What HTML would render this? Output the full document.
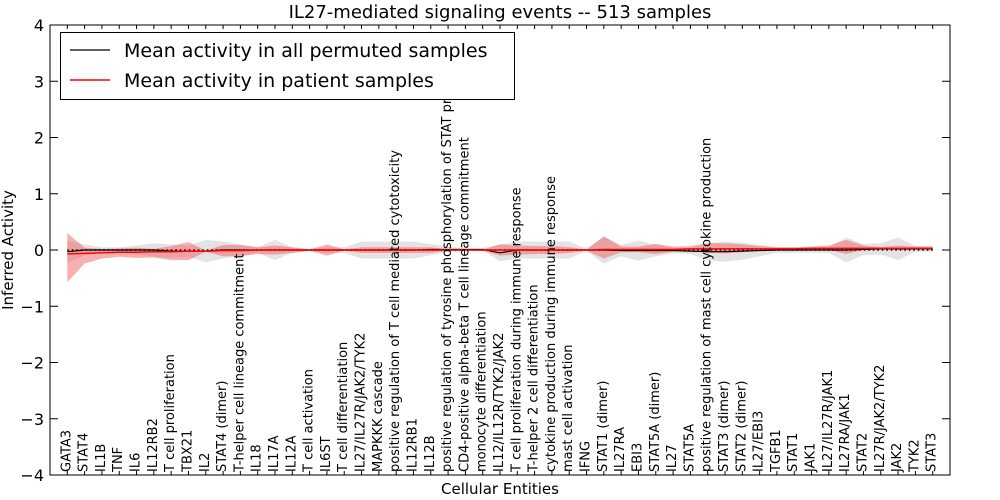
<!DOCTYPE html>
<html><head><meta charset="utf-8"><style>
body{margin:0;background:#fff;}
svg text{font-family:"DejaVu Sans","Liberation Sans",sans-serif;}
</style></head><body>
<svg id="chart" width="1000" height="500" xmlns="http://www.w3.org/2000/svg" style="position:absolute;left:0;top:0">
<rect width="1000" height="500" fill="#fff"/>
<g id="bands"></g><g id="lines"></g><g id="xlabels"></g><g id="axes"></g>
</svg>
<script>
const categories=["GATA3","STAT4","IL1B","TNF","IL6","IL12RB2","T cell proliferation","TBX21","IL2","STAT4 (dimer)","T-helper cell lineage commitment","IL18","IL17A","IL12A","T cell activation","IL6ST","T cell differentiation","IL27/IL27R/JAK2/TYK2","MAPKKK cascade","positive regulation of T cell mediated cytotoxicity","IL12RB1","IL12B","positive regulation of tyrosine phosphorylation of STAT protein","CD4-positive alpha-beta T cell lineage commitment","monocyte differentiation","IL12/IL12R/TYK2/JAK2","T cell proliferation during immune response","T-helper 2 cell differentiation","cytokine production during immune response","mast cell activation","IFNG","STAT1 (dimer)","IL27RA","EBI3","STAT5A (dimer)","IL27","STAT5A","positive regulation of mast cell cytokine production","STAT3 (dimer)","STAT2 (dimer)","IL27/EBI3","TGFB1","STAT1","JAK1","IL27/IL27R/JAK1","IL27RA/JAK1","STAT2","IL27R/JAK2/TYK2","JAK2","TYK2","STAT3"];
const permMean=[-0.03,0,0,0,0,0,-0.02,-0.02,-0.02,0,0,0,0,0,0,0,0,0,0,0,0,0.01,0.01,0.01,0.01,-0.05,0,0,0,0,0,0,-0.01,-0.01,-0.01,-0.01,-0.02,-0.03,-0.03,-0.02,-0.01,0,0,0,0,0,0.01,0.02,0.02,0.02,0.02];
const patientMean=[-0.07,-0.06,-0.05,-0.04,-0.04,-0.03,-0.03,-0.02,-0.02,-0.01,-0.01,0,0,0,0,0,0,0,0,0,0,0,0,0,0,0,0,0,0,0,0,0.01,0.01,0.01,0.01,0.01,0.02,0.02,0.02,0.02,0.02,0.02,0.02,0.03,0.03,0.03,0.03,0.03,0.03,0.03,0.03];
const permSpread=[0.2,0.1,0.05,0.05,0.08,0.12,0.12,0.1,0.2,0.15,0.1,0.05,0.18,0.05,0.02,0.05,0.05,0.15,0.15,0.15,0.15,0.1,0.05,0.02,0.02,0.15,0.15,0.15,0.15,0.15,0.02,0.24,0.1,0.18,0.1,0.05,0.05,0.15,0.18,0.15,0.1,0.05,0.05,0.05,0.05,0.22,0.1,0.1,0.2,0.05,0.05];
const patientUpper=[0.37,0.1,0.07,0.07,0.08,0.05,0.1,0.16,0.01,0.1,0.1,0.05,0.08,0.05,0.01,0.1,0.01,0.05,0.05,0.05,0.05,0.05,0.01,0.01,0.01,0.1,0.08,0.07,0.07,0.05,0.01,0.23,0.05,0.05,0.1,0.05,0.05,0.1,0.1,0.08,0.05,0.03,0.03,0.03,0.05,0.15,0.05,0.02,0.05,0.03,0.03];
const patientLower=[-0.5,-0.18,-0.1,-0.08,-0.1,-0.1,-0.15,-0.16,-0.01,-0.1,-0.1,-0.07,-0.08,-0.05,-0.01,-0.1,-0.01,-0.05,-0.05,-0.05,-0.05,-0.05,-0.01,-0.01,-0.01,-0.1,-0.08,-0.07,-0.07,-0.05,-0.01,-0.16,-0.05,-0.05,-0.08,-0.04,-0.03,-0.07,-0.08,-0.06,-0.03,-0.02,-0.02,-0.02,-0.03,-0.1,-0.03,-0.01,-0.03,-0.02,-0.02];
const yTicks=[-4,-3,-2,-1,0,1,2,3,4];
const yTickLabels=["\u22124","\u22123","\u22122","\u22121","0","1","2","3","4"];

const L=50,R=950,T=25,B=475,NS="http://www.w3.org/2000/svg";
const step=(R-L)/(categories.length+1);
const xs=i=>L+(i+1)*step;
const ys=v=>T+(4-v)*(B-T)/8;
function mk(tag,attrs,parent){const e=document.createElementNS(NS,tag);for(const k in attrs)e.setAttribute(k,attrs[k]);parent.appendChild(e);return e;}
const bands=document.getElementById('bands'),lines=document.getElementById('lines'),xl=document.getElementById('xlabels'),axes=document.getElementById('axes');
function poly(up,lo){let p=up.map((v,i)=>xs(i)+','+ys(v));for(let i=lo.length-1;i>=0;i--)p.push(xs(i)+','+ys(lo[i]));return p.join(' ');}
let g=mk('polygon',{points:poly(permMean.map((m,i)=>m+permSpread[i]),permMean.map((m,i)=>m-permSpread[i])),fill:'#cccccc','fill-opacity':0.55,stroke:'none'},bands);


let r=mk('polygon',{points:poly(patientMean.map((m,i)=>m+patientUpper[i]),patientMean.map((m,i)=>m+patientLower[i])),fill:'#f06060','fill-opacity':0.5,stroke:'none'},bands);


let z=mk('line',{x1:xs(0),x2:xs(categories.length-1),y1:ys(0),y2:ys(0),stroke:'#000','stroke-width':1.5,'stroke-dasharray':'1.5,3'},lines);


let pl=mk('polyline',{points:permMean.map((v,i)=>xs(i)+','+ys(v)).join(' '),fill:'none',stroke:'#000','stroke-width':1.2},lines);


let rl=mk('polyline',{points:patientMean.map((v,i)=>xs(i)+','+ys(v)).join(' '),fill:'none',stroke:'#f00','stroke-width':1.5},lines);


categories.forEach((c,i)=>{
  const t=mk('text',{transform:`translate(${xs(i)+3},472) rotate(-90)`,'font-size':13,fill:'#000'},xl);
  t.textContent=c;
  
  
  mk('line',{x1:xs(i),x2:xs(i),y1:B,y2:B-4,stroke:'#000'},axes);
  mk('line',{x1:xs(i),x2:xs(i),y1:T,y2:T+4,stroke:'#000'},axes);
});
yTicks.forEach((v,i)=>{
  mk('line',{x1:L,x2:L+8,y1:ys(v),y2:ys(v),stroke:'#000'},axes);
  mk('line',{x1:R,x2:R-8,y1:ys(v),y2:ys(v),stroke:'#000'},axes);
  const t=mk('text',{x:L-6,y:ys(v)+6,'text-anchor':'end','font-size':16,fill:'#000'},axes);
  t.textContent=yTickLabels[i];
  
  
});
let fr=mk('rect',{x:L,y:T,width:R-L,height:B-T,fill:'none',stroke:'#000','stroke-width':1},axes);


</script>
<svg style="position:absolute;left:0;top:0" width="1000" height="500">
<text x="500" y="18" text-anchor="middle" font-size="18">IL27-mediated signaling events -- 513 samples</text>
<text x="500" y="494" text-anchor="middle" font-size="15">Cellular Entities</text>
<text transform="translate(13,250) rotate(-90)" text-anchor="middle" font-size="15">Inferred Activity</text>
<g>
<rect x="60.5" y="32.5" width="454" height="67" fill="#fff" stroke="#000"/>
<line x1="70" x2="110" y1="50" y2="50" stroke="#000" stroke-width="1.2"/>
<text x="124" y="57" font-size="19">Mean activity in all permuted samples</text>
<line x1="70" x2="110" y1="80" y2="80" stroke="#f00" stroke-width="1.5"/>
<text x="124" y="87" font-size="19">Mean activity in patient samples</text>
</g>
</svg>
</body></html>
